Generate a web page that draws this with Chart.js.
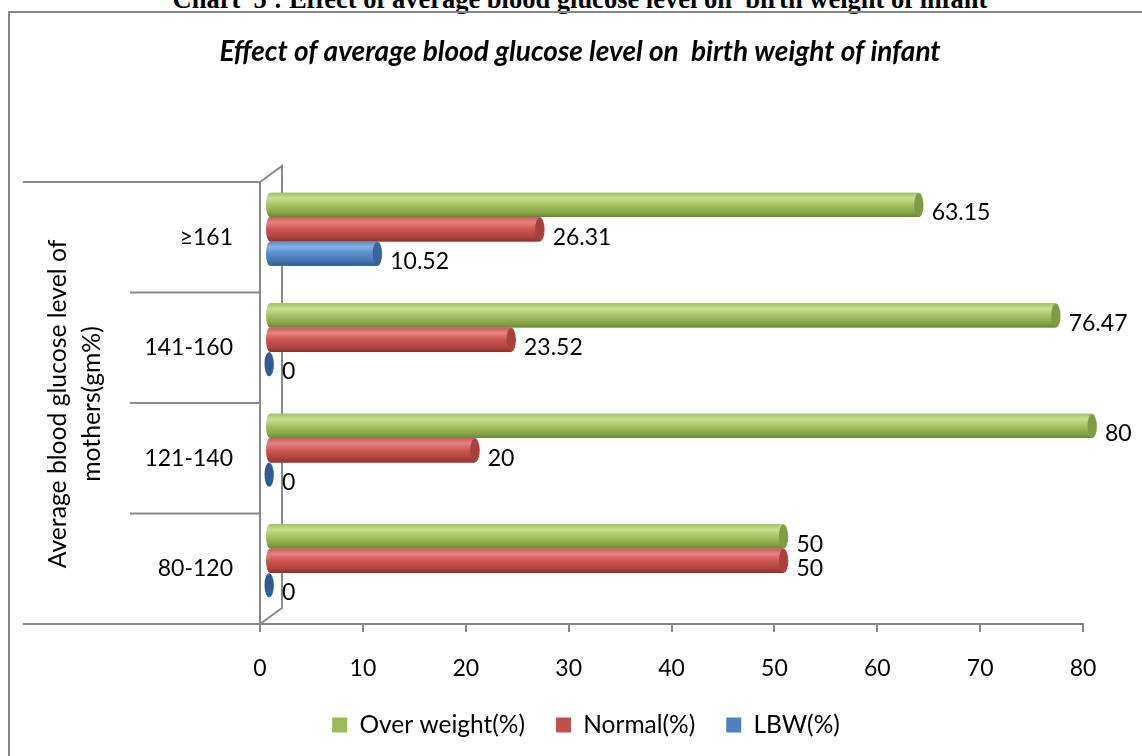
<!DOCTYPE html>
<html>
<head>
<meta charset="utf-8">
<script src="https://cdn.jsdelivr.net/npm/chart.js@4.4.1/dist/chart.umd.min.js"></script>
<style>
  html, body { margin: 0; padding: 0; background: #fff; }
  #wrap { position: relative; width: 1142px; height: 756px; overflow: hidden; background: #fff; }
  #toptitle { position: absolute; left: 0; top: -14px; width: 1160px; text-align: center;
    font-family: "Liberation Serif", "Times New Roman", serif; font-weight: bold; font-size: 26.5px; line-height: 26px; color: #000; white-space: pre; }
  #frame { position: absolute; left: 8px; top: 11px; width: 1150px; height: 760px; border: 2px solid #878787; box-sizing: border-box; }
  #c { position: absolute; left: 0; top: 0; }
</style>
</head>
<body>
<div id="wrap">
  <div id="toptitle">Chart  5 : Effect of average blood glucose level on  birth weight of infant</div>
  <div id="frame"></div>
  <canvas id="c" width="1142" height="756"></canvas>
</div>
<script>
const categories = ['\u2265161', '141-160', '121-140', '80-120'];
const overWeight = [63.15, 76.47, 80, 50];
const normal = [26.31, 23.52, 20, 50];
const lbw = [10.52, 0, 0, 0];
const seriesNames = ['Over weight(%)', 'Normal(%)', 'LBW(%)'];
const xMin = 0, xMax = 80, xStep = 10;
const chartTitle = 'Effect of average blood glucose level on  birth weight of infant';
const yTitle = ['Average blood glucose level of', 'mothers(gm%)'];

const FONT = 'Lato, "Open Sans", sans-serif';
const baseColors = ['#9BBB59', '#C0504D', '#4F81BD'];
const gradStops = [
  ['#a2c162', '#c6e08f', '#a6c464', '#88a648', '#6b8636'],
  ['#cc5c58', '#e5827f', '#cf5753', '#b1443f', '#8e3330'],
  ['#5f8cc7', '#86aee0', '#5b8ccb', '#4575ae', '#335c8d']
];
const capColors = ['#7f9b45', '#a8413e', '#3a6599'];
const DX = 9, DY = -8;
const LEGEND_CENTER_Y = 725;

const frame3d = {
  id: 'frame3d',
  afterLayout(chart) {
    const lg = chart.legend;
    if (!lg) return;
    const lo = lg.options.labels;
    const ih = Math.max(lo.font.size, lo.boxHeight);
    const top = LEGEND_CENTER_Y - lo.padding - ih / 2;
    lg.top = top;
    lg.bottom = top + ih + 2 * lo.padding;
    lg.height = lg.bottom - lg.top;
  },
  beforeDatasetsDraw(chart) {
    const ctx = chart.ctx, ca = chart.chartArea, ys = chart.scales.y;
    ctx.save();
    ctx.strokeStyle = '#8a8a8a';
    ctx.lineWidth = 2;
    const L = ca.left, T = ca.top, B = ca.bottom;
    ctx.beginPath();
    ctx.moveTo(L, T); ctx.lineTo(L, B);
    ctx.moveTo(L, T); ctx.lineTo(L + 22, T - 16);
    ctx.lineTo(L + 22, B - 16); ctx.lineTo(L, B);
    ctx.moveTo(23, T); ctx.lineTo(L, T);
    ctx.moveTo(23, B); ctx.lineTo(L, B);
    const n = categories.length;
    for (let i = 1; i < n; i++) {
      const yb = (ys.getPixelForValue(i - 1) + ys.getPixelForValue(i)) / 2;
      ctx.moveTo(130, yb); ctx.lineTo(L, yb);
    }
    ctx.stroke();
    // y axis title
    ctx.fillStyle = '#000';
    ctx.font = '24.7px ' + FONT;
    ctx.textAlign = 'center';
    ctx.textBaseline = 'middle';
    const cy = (T + B) / 2 + 1;
    ctx.translate(75, cy);
    ctx.rotate(-Math.PI / 2);
    ctx.fillText(yTitle[0], 0, -17);
    ctx.fillText(yTitle[1], 0, 17);
    ctx.restore();
    // inner title
    ctx.save();
    ctx.fillStyle = '#000';
    ctx.font = 'italic bold 28px ' + FONT;
    ctx.textAlign = 'center';
    ctx.textBaseline = 'middle';
    ctx.fillText(chartTitle, 580, 52);
    ctx.restore();
    ctx.save();
    ctx.translate(DX, DY);
  },
  afterDatasetsDraw(chart) {
    const ctx = chart.ctx;
    chart.data.datasets.forEach((ds, di) => {
      const meta = chart.getDatasetMeta(di);
      meta.data.forEach((el, i) => {
        const x = el.x, base = el.base, yc = el.y, h = el.height;
        const ry = h / 2, rx = 5;
        const g = ctx.createLinearGradient(0, yc - ry, 0, yc + ry);
        const st = gradStops[di];
        g.addColorStop(0, st[0]); g.addColorStop(0.22, st[1]); g.addColorStop(0.5, st[2]);
        g.addColorStop(0.8, st[3]); g.addColorStop(1, st[4]);
        ctx.beginPath();
        ctx.moveTo(base, yc - ry);
        ctx.lineTo(x, yc - ry);
        ctx.ellipse(x, yc, rx, ry, 0, -Math.PI / 2, Math.PI / 2);
        ctx.lineTo(base, yc + ry);
        ctx.ellipse(base, yc, rx - 1, ry, 0, Math.PI / 2, Math.PI * 1.5);
        ctx.closePath();
        ctx.fillStyle = g;
        ctx.fill();
        ctx.beginPath();
        ctx.ellipse(x, yc, rx - 0.5, ry - 0.5, 0, 0, Math.PI * 2);
        ctx.fillStyle = x - base < 1 ? '#2f5d93' : capColors[di];
        ctx.fill();
        // value label
        ctx.fillStyle = '#000';
        ctx.font = '23px ' + FONT;
        ctx.textAlign = 'left';
        ctx.textBaseline = 'middle';
        ctx.fillText(String(ds.data[i]), x + 13, yc + 8);
      });
    });
    ctx.restore();
  }
};

new Chart(document.getElementById('c'), {
  type: 'bar',
  data: {
    labels: categories,
    datasets: [
      { label: seriesNames[0], data: overWeight, backgroundColor: baseColors[0] },
      { label: seriesNames[1], data: normal, backgroundColor: baseColors[1] },
      { label: seriesNames[2], data: lbw, backgroundColor: baseColors[2] }
    ]
  },
  options: {
    indexAxis: 'y',
    responsive: false,
    animation: false,
    events: [],
    categoryPercentage: 0.66,
    barPercentage: 1,
    layout: { padding: { left: 89, right: 59, top: 182, bottom: 32 } },
    scales: {
      x: {
        min: xMin, max: xMax,
        afterFit(s) { s.height = 60; },
        grid: { drawOnChartArea: false, drawTicks: true, tickLength: 8, color: '#878787', lineWidth: 2 },
        border: { display: true, color: '#878787', width: 2 },
        ticks: { stepSize: xStep, color: '#000', font: { family: FONT, size: 23 }, padding: 23, autoSkip: false, maxRotation: 0 }
      },
      y: {
        afterFit(s) { s.width = 171; },
        grid: { display: false, drawTicks: false },
        border: { display: false },
        ticks: { color: '#000', font: { family: FONT, size: 23 }, padding: 27 }
      }
    },
    plugins: {
      legend: {
        position: 'bottom',
        maxHeight: 40,
        labels: { color: '#000', font: { family: FONT, size: 24.5 }, boxWidth: 15, boxHeight: 15, padding: 31 }
      },
      title: { display: false },
      tooltip: { enabled: false }
    }
  },
  plugins: [frame3d]
});
</script>
</body>
</html>
